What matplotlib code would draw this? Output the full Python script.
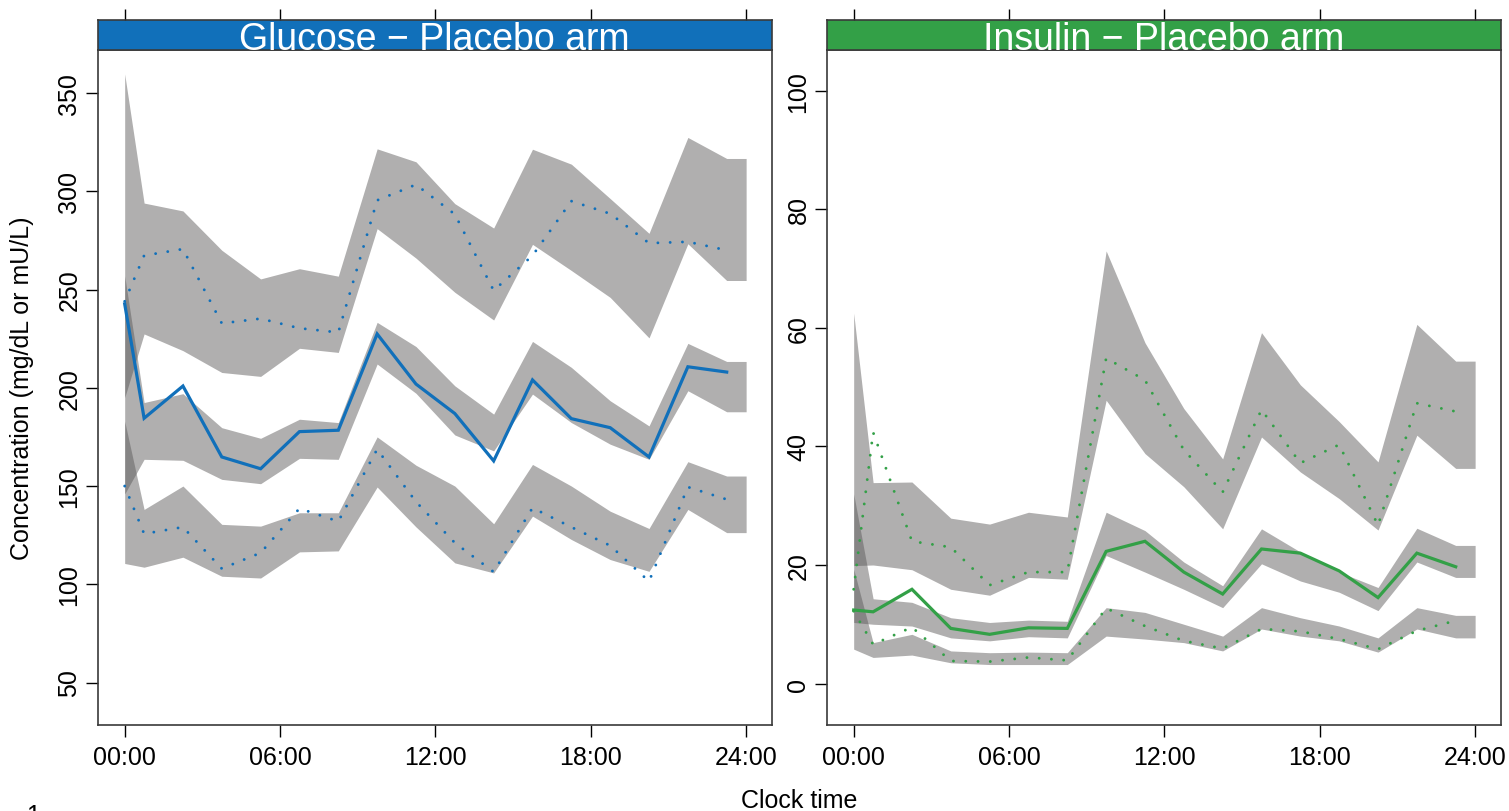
import matplotlib
matplotlib.use("Agg")
import matplotlib.pyplot as plt

plt.rcParams['font.family'] = ['Liberation Sans', 'DejaVu Sans']

# time bins (hours) - observed percentiles at bin midpoints, CI bands run on to 24h
obs_time = [0, 0.75, 2.25, 3.75, 5.25, 6.75, 8.25, 9.75, 11.25, 12.75,
            14.25, 15.75, 17.25, 18.75, 20.25, 21.75, 23.25]
band_time = obs_time + [24]

tick_pos = [0, 6, 12, 18, 24]
tick_lab = ['00:00', '06:00', '12:00', '18:00', '24:00']

# Glucose - placebo arm
glu_hi_top = [359.7, 294, 290, 270, 255.4, 260.6, 256.8, 321.6, 315, 293.7, 281.3, 321.4, 313.8, 296.3, 278.6, 327.4, 316.7, 316.7]
glu_hi_bot = [195, 227.4, 218.9, 207.8, 205.8, 220.1, 218, 281, 266, 248.6, 234.5, 273, 259.7, 246, 225.4, 273.3, 254.6, 254.6]
glu_md_top = [257, 192.5, 197, 179.7, 174.3, 184, 182.3, 233.3, 221, 201, 186.6, 223.6, 210.4, 193.4, 180.6, 222.6, 213.4, 213.4]
glu_md_bot = [146, 163.6, 163.1, 153.4, 151.2, 164.1, 163.6, 212.1, 197.2, 176, 167.9, 196.8, 182.3, 171.3, 163.6, 198.5, 187.8, 187.8]
glu_lo_top = [183, 138.1, 150, 130.5, 129.6, 136.4, 136.4, 175, 160.6, 150, 130.8, 161, 150, 137.2, 128.4, 162.4, 155.1, 155.1]
glu_lo_bot = [110.6, 108.7, 113.8, 104.1, 103.2, 116.5, 117, 149.5, 129.2, 110.9, 105.8, 134.7, 122.8, 112.6, 106.6, 138.1, 126.3, 126.3]
glu_obs_med = [242.7, 184.5, 200.9, 164.8, 158.8, 177.7, 178.4, 227.4, 201.9, 186.9, 162.8, 204, 184.3, 179.7, 164.8, 210.7, 208]
glu_obs_hi = [244, 267.3, 270.6, 232.8, 235.2, 230.3, 228.2, 295.4, 303.4, 288.3, 249.5, 267.3, 295, 288.6, 273.6, 274.3, 270]
glu_obs_lo = [150, 125.7, 129.1, 108, 116, 138.6, 132, 168.7, 142, 121.1, 106.3, 138.9, 129.1, 119.7, 101.5, 149.5, 143.2]

# Insulin - placebo arm
ins_hi_top = [62.5, 33.9, 34.0, 27.9, 26.9, 28.9, 28.1, 73.0, 57.5, 46.4, 37.9, 59.2, 50.4, 44.2, 37.4, 60.6, 54.4, 54.4]
ins_hi_bot = [19.9, 20.0, 19.2, 15.9, 14.9, 17.9, 17.6, 47.8, 38.8, 33.2, 26.1, 41.6, 35.7, 31.2, 25.9, 41.9, 36.3, 36.3]
ins_md_top = [32, 14.3, 13.7, 11.1, 10.3, 10.7, 10.5, 28.9, 25.8, 20.5, 16.5, 26.1, 22.2, 18.8, 16.2, 26.2, 23.3, 23.3]
ins_md_bot = [10.3, 10.0, 9.7, 7.7, 7.2, 7.9, 7.7, 21.6, 18.8, 15.9, 12.8, 20.2, 17.3, 15.4, 12.3, 20.5, 17.9, 17.9]
ins_lo_top = [19.3, 6.9, 8.3, 5.5, 5.2, 5.3, 5.2, 12.8, 12.0, 10.0, 8.0, 12.8, 11.1, 9.7, 7.7, 12.8, 11.5, 11.5]
ins_lo_bot = [5.8, 4.4, 4.8, 3.5, 3.2, 3.2, 3.2, 8.0, 7.5, 6.9, 5.5, 9.2, 8.0, 7.2, 5.3, 9.2, 7.7, 7.7]
ins_obs_med = [12.4, 12.1, 15.9, 9.3, 8.3, 9.4, 9.3, 22.3, 24.0, 18.8, 15.1, 22.7, 22.0, 19.0, 14.5, 22.0, 19.7]
ins_obs_hi = [15.9, 42.4, 24.0, 23.0, 16.6, 18.8, 18.8, 54.9, 51.2, 39.4, 32.3, 46.2, 37.2, 40.3, 26.7, 47.3, 45.9]
ins_obs_lo = [12.2, 6.6, 9.5, 3.8, 3.7, 4.4, 3.9, 12.7, 9.7, 7.2, 5.9, 9.2, 8.8, 7.5, 5.8, 8.9, 10.6]

W, H = 1509, 812
BAND = (0.353, 0.345, 0.345)
FRAME = '#3a3a3a'


def px(x0, y0, x1, y1):
  return [x0 / W, 1 - y1 / H, (x1 - x0) / W, (y1 - y0) / H]


def panel(x0, x1, title, col, bands, obs, ylim, yticks):
  ax = fig.add_axes(px(x0, 51, x1, 726))
  for top, bot in bands:
    ax.fill_between(band_time, bot, top, color=BAND, alpha=0.48, lw=0)
  med, hi, lo = obs
  ax.plot(obs_time, med, color=col, lw=2.3, solid_joinstyle='miter')
  for s in (hi, lo):
    # round-capped near-zero dashes -> separate dots
    ax.plot(obs_time, s, color=col, lw=2.1, linestyle=(0, (0.01, 4.2)), dash_capstyle='round')
  ax.set_xlim(-1.05, 24.98)
  ax.set_ylim(*ylim)
  ax.set_xticks(tick_pos)
  ax.set_xticklabels(tick_lab)
  ax.set_yticks(yticks)
  ax.tick_params(axis='x', length=8.6, width=1, pad=6, labelsize=18, colors='black')
  ax.tick_params(axis='y', length=8.6, width=1, pad=3, labelsize=18, labelrotation=90)
  for lbl in ax.get_yticklabels():
    lbl.set_va('center')
  for sp in ax.spines.values():
    sp.set_color(FRAME)
    sp.set_linewidth(1.2)

  st = fig.add_axes(px(x0, 21, x1, 51))
  st.set_facecolor(col)
  st.set_xlim(-1.05, 24.98)
  st.set_ylim(0, 1)
  st.set_yticks([])
  st.set_xticks(tick_pos)
  st.tick_params(axis='x', bottom=False, top=True, labelbottom=False, labeltop=False,
                 length=8, width=1)
  for sp in st.spines.values():
    sp.set_color(FRAME)
    sp.set_linewidth(1.2)
  st.text(0.5, 0.03, title, transform=st.transAxes, ha='center', va='baseline',
          color='white', fontsize=27)
  return ax


fig = plt.figure(figsize=(W / 100, H / 100), dpi=100)

panel(97.5, 771.5, 'Glucose \u2212 Placebo arm', '#1170BA',
      [(glu_hi_top, glu_hi_bot), (glu_md_top, glu_md_bot), (glu_lo_top, glu_lo_bot)],
      (glu_obs_med, glu_obs_hi, glu_obs_lo), (28.4, 371.9), [50, 100, 150, 200, 250, 300, 350])

panel(826.5, 1500.5, 'Insulin \u2212 Placebo arm', '#33A047',
      [(ins_hi_top, ins_hi_bot), (ins_md_top, ins_md_bot), (ins_lo_top, ins_lo_bot)],
      (ins_obs_med, ins_obs_hi, ins_obs_lo), (-7.0, 106.9), [0, 20, 40, 60, 80, 100])

fig.text(799 / W, 1 - 801 / H, 'Clock time', ha='center', va='center', fontsize=18)
fig.text(22 / W, 1 - 388 / H, 'Concentration (mg/dL or mU/L)', ha='center', va='center',
         rotation=90, fontsize=18)
# page number, cut by the lower edge as in the source
fig.text(26 / W, 1 - 804 / H, '1', ha='left', va='top', fontsize=18)

fig.savefig('out.png', dpi=100)
